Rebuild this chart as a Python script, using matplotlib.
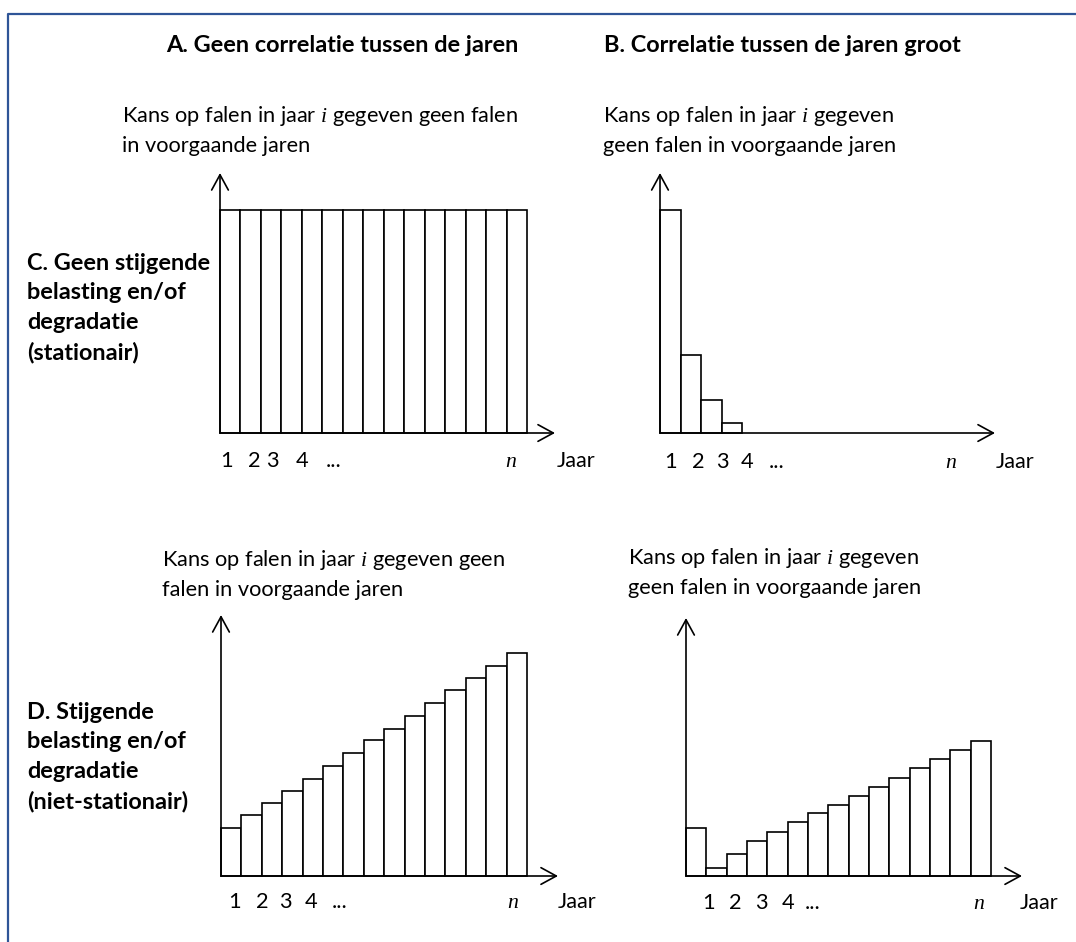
import numpy as np
import matplotlib
matplotlib.use("Agg")
import matplotlib.pyplot as plt
from matplotlib.lines import Line2D

plt.rcParams['font.family'] = ['Lato', 'DejaVu Sans']
plt.rcParams['mathtext.fontset'] = 'custom'
plt.rcParams['mathtext.rm'] = 'Lato'
plt.rcParams['mathtext.it'] = 'Liberation Serif:italic'

W, H = 1076, 942

# ---------- data (probability of failure in year i, relative to year 1)
years = np.arange(1, 16)
p_stat_nocorr = [1.0, 1.0, 1.0, 1.0, 1.0, 1.0, 1.0, 1.0, 1.0, 1.0, 1.0, 1.0, 1.0, 1.0, 1.0]
p_stat_corr = [1.0, 0.35, 0.148, 0.043]
p_nonstat_nocorr = [0.214, 0.274, 0.329, 0.383, 0.436, 0.495, 0.553, 0.608,
                    0.661, 0.717, 0.774, 0.834, 0.889, 0.943, 0.999]
p_nonstat_corr = [0.214, 0.037, 0.099, 0.157, 0.199, 0.241, 0.284, 0.318,
                  0.360, 0.400, 0.441, 0.483, 0.525, 0.565, 0.607]

col_titles = ["A. Geen correlatie tussen de jaren", "B. Correlatie tussen de jaren groot"]
row_titles = ["C. Geen stijgende\nbelasting en/of\ndegradatie\n(stationair)",
              "D. Stijgende\nbelasting en/of\ndegradatie\n(niet-stationair)"]
ylabels = ["Kans op falen in jaar $i$ gegeven geen falen\nin voorgaande jaren",
           "Kans op falen in jaar $i$ gegeven\ngeen falen in voorgaande jaren",
           "Kans op falen in jaar $i$ gegeven geen\nfalen in voorgaande jaren",
           "Kans op falen in jaar $i$ gegeven\ngeen falen in voorgaande jaren"]
tick_labels = ["1", "2", "3", "4", "..."]
xlabel = "Jaar"

fig = plt.figure(figsize=(W / 100, H / 100), dpi=100)

def fx(px):
    return px / W

def fy(py):
    return 1 - py / H

# frame (only top and left edge visible)
fig.add_artist(Line2D([fx(8), fx(8), fx(1076)], [fy(942), fy(14), fy(14)],
                      transform=fig.transFigure, color='#2F5597', lw=1.6))

# panels: origin x, origin y, x arrow end, y arrow top, bar width (px)
panels = [
    (220, 433, 555, 173, 20.47, years, p_stat_nocorr),
    (660, 433, 995, 173, 20.6, years[:4], p_stat_corr),
    (221, 876, 558, 615, 20.4, years, p_nonstat_nocorr),
    (686, 876, 1022, 618, 20.33, years, p_nonstat_corr),
]
unit_px = 223.0  # px for probability 1.0

for (x0, y0, xe, yt, bw, xs, vals) in panels:
    ax = fig.add_axes([fx(x0), fy(y0), (xe - x0) / W, (y0 - yt) / H])
    ax.set_xlim(0, (xe - x0) / bw)
    ax.set_ylim(0, (y0 - yt) / unit_px)
    ax.bar(xs - 0.5, vals, width=1.0, facecolor='white', edgecolor='black',
           lw=1.2, clip_on=False)
    ax.axis('off')
    arrow = dict(arrowstyle='->,head_length=0.55,head_width=0.3', lw=1.2,
                 color='black', shrinkA=0, shrinkB=0, mutation_scale=20)
    ax.annotate('', xy=(1, 0), xytext=(0, 0), xycoords='axes fraction',
                arrowprops=arrow)
    ax.annotate('', xy=(0, 1), xytext=(0, 0), xycoords='axes fraction',
                arrowprops=arrow)

fs = 15.7
fs_b = 16.9

# column titles
fig.text(fx(342), fy(45), col_titles[0], fontsize=fs_b, fontweight='bold',
         ha='center', va='center')
fig.text(fx(782), fy(45), col_titles[1], fontsize=fs_b, fontweight='bold',
         ha='center', va='center')

# row titles
for (py, txt) in [(308, row_titles[0]), (757, row_titles[1])]:
    fig.text(fx(27), fy(py), txt, fontsize=fs_b, fontweight='bold',
             ha='left', va='center', linespacing=1.49)

# y axis labels
for (px, py, txt) in [(122, 130, ylabels[0]), (603, 130, ylabels[1]),
                      (162, 574, ylabels[2]), (628, 572, ylabels[3])]:
    fig.text(fx(px), fy(py), txt, fontsize=fs, ha='left', va='center',
             linespacing=1.52)

# x tick texts
tick_pos = [
    ([227, 254, 272, 302, 334], 511, 557, 461),
    ([671, 698, 722, 747, 777], 951, 996, 462),
    ([234, 262, 285, 311, 340], 513, 558, 902),
    ([708, 735, 761, 788, 813], 979, 1020, 903),
]
for (pxs, px_n, px_j, py) in tick_pos:
    for lab, px in zip(tick_labels, pxs):
        fig.text(fx(px), fy(py), lab, fontsize=fs, ha='center', va='center')
    fig.text(fx(px_n), fy(py), "$n$", fontsize=fs, ha='center', va='center')
    fig.text(fx(px_j), fy(py), xlabel, fontsize=fs, ha='left', va='center')

fig.savefig("out.png", dpi=100)
